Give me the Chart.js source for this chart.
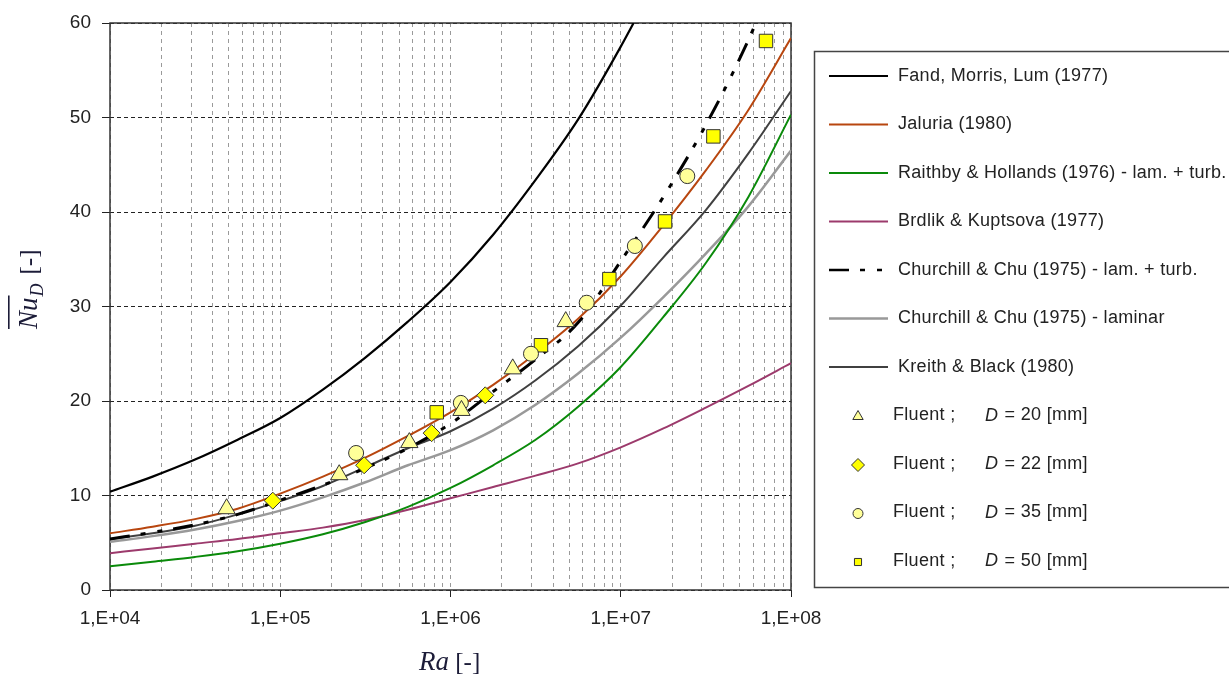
<!DOCTYPE html>
<html>
<head>
<meta charset="utf-8">
<script src="https://cdn.jsdelivr.net/npm/chart.js@4.4.1/dist/chart.umd.min.js"></script>
<style>
  html, body { margin: 0; padding: 0; background: #fff; }
  #wrap { width: 1229px; height: 674px; position: relative; }
</style>
</head>
<body>
<div id="wrap"><canvas id="nuChart" width="1229" height="674"></canvas></div>
<script>
// Ra points (quarter decades) shared by the correlation curves
const raGrid = [1e4, 1.78e4, 3.16e4, 5.62e4, 1e5, 1.78e5, 3.16e5, 5.62e5, 1e6,
                1.78e6, 3.16e6, 5.62e6, 1e7, 1.78e7, 3.16e7, 5.62e7, 1e8];

// mean Nusselt number from the correlations
const nuFand     = [10.4, 12.0, 13.8, 15.9, 18.2, 21.2, 24.6, 28.4, 32.6, 37.6, 43.4, 49.8, 57.5, 66.0];
const nuJaluria  = [6.0, 6.7, 7.5, 8.6, 10.2, 12.0, 14.0, 16.3, 18.8, 21.7, 25.0, 28.7, 33.2, 38.6, 44.4, 50.8, 58.4];
const nuRaithby  = [2.5, 3.0, 3.5, 4.1, 4.9, 5.9, 7.2, 8.8, 10.8, 13.2, 15.9, 19.4, 23.6, 28.9, 34.6, 41.6, 50.3];
const nuBrdlik   = [3.9, 4.4, 4.9, 5.4, 6.0, 6.6, 7.4, 8.5, 9.7, 10.9, 12.1, 13.4, 15.1, 17.1, 19.3, 21.6, 24.0];
const nuChurTurb = [5.4, 6.1, 6.9, 8.0, 9.5, 11.1, 12.9, 15.0, 17.6, 21.0, 24.4, 28.3, 34.8, 41.6, 49.2, 58.2, 69.0];
const nuChurLam  = [5.1, 5.7, 6.4, 7.3, 8.4, 9.8, 11.4, 13.2, 14.8, 16.9, 19.6, 22.9, 26.7, 31.0, 35.6, 40.6, 46.5];
const nuKreith   = [5.4, 6.0, 6.8, 8.0, 9.4, 11.0, 13.0, 15.0, 16.8, 19.2, 22.2, 25.8, 30.1, 35.2, 40.2, 46.2, 52.8];

// Fluent results for the four cylinder diameters
const raD20 = [4.84e4, 2.22e5, 5.73e5, 1.16e6, 2.32e6, 4.75e6];
const nuD20 = [8.6, 12.2, 15.6, 19.0, 23.4, 28.4];
const raD22 = [9.04e4, 3.11e5, 7.75e5, 1.60e6];
const nuD22 = [9.45, 13.2, 16.6, 20.6];
const raD35 = [2.79e5, 1.15e6, 2.97e6, 6.31e6, 1.21e7, 2.46e7];
const nuD35 = [14.5, 19.8, 25.0, 30.4, 36.4, 43.8];
const raD50 = [8.30e5, 3.40e6, 8.57e6, 1.82e7, 3.50e7, 7.13e7];
const nuD50 = [18.8, 25.9, 32.9, 39.0, 48.0, 58.1];

const FONT = '"Liberation Sans", Arial, sans-serif';
const SERIF = '"Liberation Serif", "Times New Roman", serif';

const pts = (xs, ys) => ys.map((y, i) => ({ x: xs[i], y }));

function curve(label, ys, color, width, dash) {
  return {
    label, data: pts(raGrid, ys), showLine: true,
    borderColor: color, borderWidth: width, borderDash: dash || [],
    pointRadius: 0, pointHoverRadius: 0, fill: false,
    cubicInterpolationMode: 'monotone', order: 2
  };
}

function markers(label, xs, ys, style, fill, radius) {
  return {
    label, data: pts(xs, ys), showLine: false,
    pointStyle: style, pointRadius: radius, pointHoverRadius: radius,
    backgroundColor: fill, borderColor: '#333', pointBorderWidth: 1,
    order: 1
  };
}

const isDecade = v => Math.abs(Math.log10(v) - Math.round(Math.log10(v))) < 1e-9;

// legend box on the right, drawn from the dataset styles
const sideLegend = {
  id: 'sideLegend',
  afterDraw(chart) {
    const ctx = chart.ctx;
    ctx.save();
    ctx.strokeStyle = '#444';
    ctx.lineWidth = 1.5;
    ctx.strokeRect(814.5, 51.5, 440, 536);
    ctx.textBaseline = 'middle';
    ctx.letterSpacing = '0.3px';
    chart.data.datasets.forEach((ds, i) => {
      const y = 76 + i * 48.5;
      if (ds.showLine) {
        ctx.save();
        ctx.strokeStyle = ds.borderColor;
        ctx.lineWidth = Math.min(ds.borderWidth, 2.5);
        ctx.setLineDash(ds.borderDash);
        ctx.beginPath();
        ctx.moveTo(829, y);
        ctx.lineTo(888, y);
        ctx.stroke();
        ctx.restore();
        ctx.fillStyle = '#222';
        ctx.font = '18px ' + FONT;
        ctx.fillText(ds.label, 898, y);
      } else {
        ctx.fillStyle = ds.backgroundColor;
        ctx.strokeStyle = '#333';
        ctx.lineWidth = 1;
        Chart.helpers.drawPoint(ctx, {
          pointStyle: ds.pointStyle,
          radius: ds.pointStyle === 'triangle' ? 6 : (ds.pointStyle === 'rectRot' ? 6.5 : 5),
          borderWidth: 1
        }, 858, y + 1);
        ctx.fillStyle = '#222';
        const [left, right] = ds.label.split(' D ');
        ctx.font = '18px ' + FONT;
        ctx.fillText(left, 893, y);
        ctx.font = 'italic 18px ' + FONT;
        ctx.fillText('D', 985, y);
        const dW = ctx.measureText('D').width;
        ctx.font = '18px ' + FONT;
        ctx.fillText(' ' + right, 985 + dW + 1, y);
      }
    });
    ctx.restore();
  }
};

// frame around the plot area and the two axis titles
const frameAndTitles = {
  id: 'frameAndTitles',
  beforeDatasetsDraw(chart) {
    const { left, top, right, bottom } = chart.chartArea;
    const ctx = chart.ctx;
    ctx.save();
    ctx.strokeStyle = '#333';
    ctx.lineWidth = 1.5;
    ctx.strokeRect(left, top, right - left, bottom - top);
    ctx.restore();
  },
  afterDraw(chart) {
    const ctx = chart.ctx;
    ctx.save();
    ctx.fillStyle = '#1c1c38';
    ctx.textBaseline = 'alphabetic';
    // x title: Ra [-]
    ctx.font = 'italic 27px ' + SERIF;
    ctx.fillText('Ra', 419, 670);
    const raW = ctx.measureText('Ra').width;
    ctx.font = '25px ' + SERIF;
    ctx.fillText(' [-]', 419 + raW, 670);
    // y title: overlined Nu with subscript D, then [-]
    ctx.translate(37, 329);
    ctx.rotate(-Math.PI / 2);
    ctx.font = 'italic 27px ' + SERIF;
    ctx.fillText('Nu', 0, 0);
    const nuW = ctx.measureText('Nu').width;
    ctx.fillRect(0, -29, nuW + 2, 1.6);
    ctx.font = 'italic 18px ' + SERIF;
    ctx.fillText('D', nuW + 1, 6);
    const dW = ctx.measureText('D').width;
    ctx.font = '25px ' + SERIF;
    ctx.fillText('[-]', nuW + dW + 10, 0);
    ctx.restore();
  }
};

new Chart(document.getElementById('nuChart'), {
  type: 'scatter',
  data: {
    datasets: [
      curve('Fand, Morris, Lum (1977)', nuFand, '#000000', 2.2),
      curve('Jaluria (1980)', nuJaluria, '#b8460f', 2),
      curve('Raithby & Hollands (1976) - lam. + turb.', nuRaithby, '#0a8a0a', 2),
      curve('Brdlik & Kuptsova (1977)', nuBrdlik, '#9c3a6c', 2),
      curve('Churchill & Chu (1975) - lam. + turb.', nuChurTurb, '#000000', 3, [20, 11, 5, 12, 5, 11]),
      curve('Churchill & Chu (1975) - laminar', nuChurLam, '#999999', 2.5),
      curve('Kreith & Black (1980)', nuKreith, '#404040', 2),
      markers('Fluent ; D = 20 [mm]', raD20, nuD20, 'triangle', '#ffff99', 10),
      markers('Fluent ; D = 22 [mm]', raD22, nuD22, 'rectRot', '#ffff00', 8.5),
      markers('Fluent ; D = 35 [mm]', raD35, nuD35, 'circle', '#ffff99', 7.5),
      markers('Fluent ; D = 50 [mm]', raD50, nuD50, 'rect', '#ffff00', 9.5)
    ]
  },
  options: {
    responsive: false,
    animation: false,
    layout: { padding: { left: 0, top: 23, right: 438, bottom: 0 } },
    plugins: { legend: { display: false }, tooltip: { enabled: false } },
    scales: {
      x: {
        type: 'logarithmic', min: 1e4, max: 1e8,
        afterBuildTicks: s => {
          const t = [];
          for (let e = 4; e < 8; e++) for (let k = 1; k <= 9; k++) t.push({ value: k * Math.pow(10, e) });
          t.push({ value: 1e8 });
          s.ticks = t;
        },
        afterFit: s => { s.height = 84; },
        ticks: {
          autoSkip: false, maxRotation: 0, minRotation: 0, padding: 10,
          color: '#222', font: { family: FONT, size: 19 },
          callback: v => isDecade(v) ? '1,E+' + String(Math.round(Math.log10(v))).padStart(2, '0') : ''
        },
        grid: {
          color: '#9a9a9a', lineWidth: 1, tickLength: 7,
          tickColor: c => (c.tick && isDecade(c.tick.value)) ? '#222' : 'rgba(0,0,0,0)'
        },
        border: { display: false, dash: [4, 4] }
      },
      y: {
        min: 0, max: 60,
        afterFit: s => { s.width = 110; },
        ticks: { stepSize: 10, padding: 11, color: '#222', font: { family: FONT, size: 19 } },
        grid: { color: '#222', lineWidth: 1, tickLength: 8, tickColor: '#222' },
        border: { display: false, dash: [4, 3] }
      }
    }
  },
  plugins: [frameAndTitles, sideLegend]
});
</script>
</body>
</html>
